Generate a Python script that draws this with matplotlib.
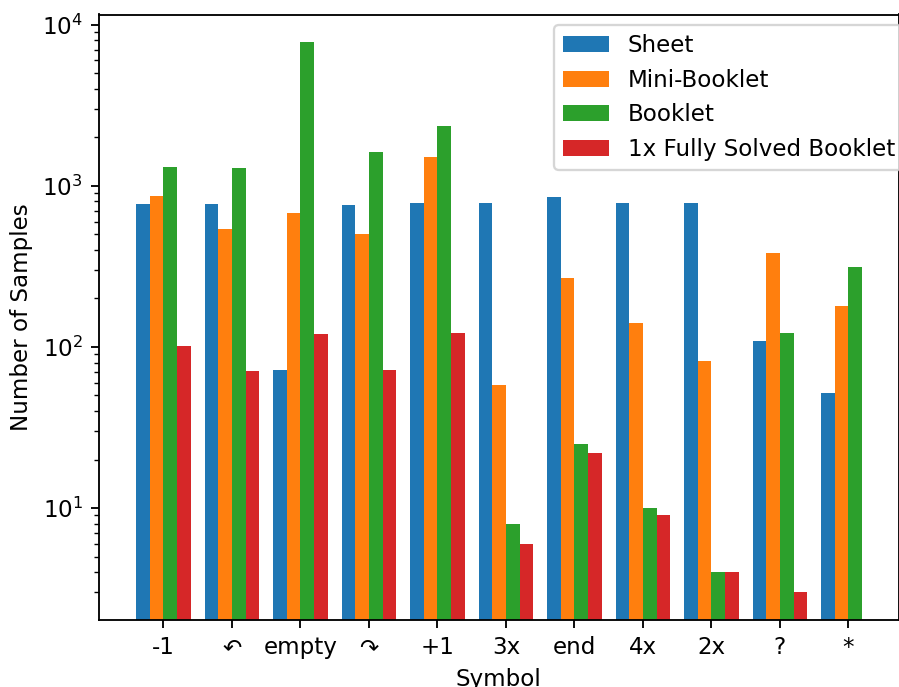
import matplotlib
matplotlib.use("Agg")
import matplotlib.pyplot as plt
import numpy as np

symbols = ["-1", "\u21b6", "empty", "\u21b7", "+1", "3x", "end", "4x", "2x", "?", "*"]

sheet = [773, 773, 72, 760, 781, 780, 853, 780, 780, 109, 52]
mini_booklet = [866, 541, 680, 504, 1507, 58, 269, 141, 82, 383, 180]
booklet = [1310, 1290, 7800, 1620, 2345, 8, 25, 10, 4, 122, 313]
solved_booklet = [102, 71, 121, 72, 122, 6, 22, 9, 4, 3, np.nan]

series = [
    ("Sheet", sheet),
    ("Mini-Booklet", mini_booklet),
    ("Booklet", booklet),
    ("1x Fully Solved Booklet", solved_booklet),
]

dpi = 166
fig = plt.figure(figsize=(899 / dpi, 687 / dpi), dpi=dpi)
ax = fig.add_axes([99 / 899, 1 - 620 / 687, 799.5 / 899, 605.5 / 687])

x = np.arange(len(symbols))
width = 0.2
for i, (name, vals) in enumerate(series):
    ax.bar(x + (i - 1.5) * width, vals, width, label=name)

ax.set_yscale("log")
ax.set_ylim(2.02, 11560)
ax.set_xlim(-0.94, 10.73)
ax.set_xticks(x)
ax.set_xticklabels(symbols)
ax.set_xlabel("Symbol")
ax.set_ylabel("Number of Samples")
ax.legend(loc="upper left", bbox_to_anchor=(0.569, 0.9826), borderaxespad=0)

fig.savefig("out.png", dpi=dpi)
